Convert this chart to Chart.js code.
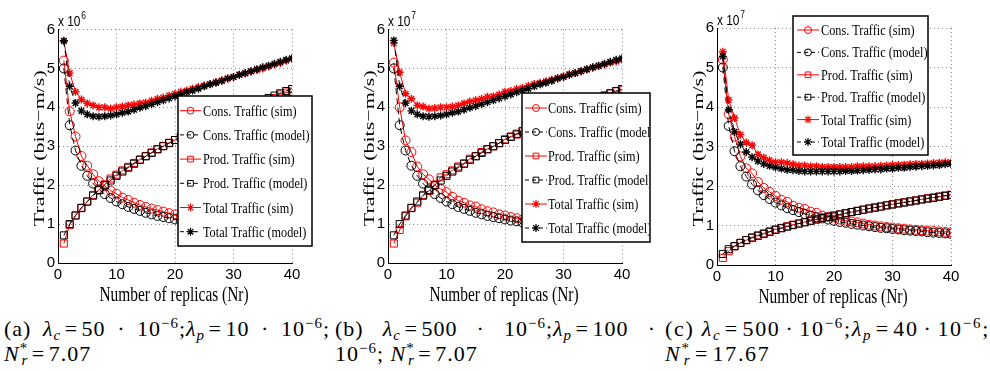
<!DOCTYPE html>
<html>
<head>
<meta charset="utf-8">
<script src="https://cdn.jsdelivr.net/npm/chart.js"></script>
<style>
  body { margin: 0; background: #fff; width: 990px; height: 371px; position: relative; overflow: hidden; }
  canvas { position: absolute; top: 0; }
  #chartA { left: 0; }
  #chartB { left: 330px; }
  #chartC { left: 660px; }
  .cap { position: absolute; top: 316px; font-family: "Liberation Serif", serif; font-size: 22px; letter-spacing: 1px; line-height: 25px; color: #000; }
  .cap .l1 { white-space: nowrap; }
  .cap .j { text-align: justify; text-align-last: justify; white-space: normal; }
  .cap sup, .cap sub { font-size: 0.68em; line-height: 0; }
  .cap sup { vertical-align: 0.55em; }
  .cap sub { vertical-align: -0.3em; }
  .cap sub.r { margin-left: -0.45em; }
  .rel { margin: 0 0.16em; }
  .bin { margin: 0 0.22em; }
</style>
</head>
<body>
<canvas id="chartA" width="330" height="310"></canvas>
<canvas id="chartB" width="330" height="310"></canvas>
<canvas id="chartC" width="330" height="310"></canvas>

<div class="cap" style="left:4px;width:326px">
  <div class="l1 j">(a) <i>λ</i><sub><i>c</i></sub><span class="rel">=</span>50 · 10<sup>−6</sup>;<i>λ</i><sub><i>p</i></sub><span class="rel">=</span>10 · 10<sup>−6</sup>;</div>
  <div><i>N</i><sup>*</sup><sub class="r"><i>r</i></sub><span class="rel">=</span>7.07</div>
</div>
<div class="cap" style="left:335px;width:321px">
  <div class="j">(b) <i>λ</i><sub><i>c</i></sub><span class="rel">=</span>500 · 10<sup>−6</sup>;<i>λ</i><sub><i>p</i></sub><span class="rel">=</span>100 ·</div>
  <div>10<sup>−6</sup>; <i>N</i><sup>*</sup><sub class="r"><i>r</i></sub><span class="rel">=</span>7.07</div>
</div>
<div class="cap" style="left:665px;width:325px;letter-spacing:1.7px">
  <div class="l1">(c) <i>λ</i><sub><i>c</i></sub><span class="rel">=</span>500<span class="bin">·</span>10<sup>−6</sup>;<i>λ</i><sub><i>p</i></sub><span class="rel">=</span>40<span class="bin">·</span>10<sup>−6</sup>;</div>
  <div><i>N</i><sup>*</sup><sub class="r"><i>r</i></sub><span class="rel">=</span>17.67</div>
</div>

<script>
const replicas = [1, 2, 3, 4, 5, 6, 7, 8, 9, 10, 11, 12, 13, 14, 15, 16, 17, 18, 19, 20,
    21, 22, 23, 24, 25, 26, 27, 28, 29, 30, 31, 32, 33, 34, 35, 36, 37, 38, 39, 40];

const seriesNames = ['Cons. Traffic (sim)', 'Cons. Traffic (model)', 'Prod. Traffic (sim)',
    'Prod. Traffic (model)', 'Total Traffic (sim)', 'Total Traffic (model)'];

// (a) values x 10^6
const consSimA = [5.2, 3.9, 3.25, 2.75, 2.5, 2.28, 2.1, 1.98, 1.86, 1.78, 1.68, 1.62, 1.55, 1.49, 1.44, 1.4, 1.36, 1.32, 1.28, 1.25,
    1.22, 1.19, 1.16, 1.13, 1.11, 1.09, 1.07, 1.05, 1.03, 1.01, 0.99, 0.97, 0.96, 0.94, 0.93, 0.91, 0.9, 0.88, 0.87, 0.86];
const consModelA = [5.0, 3.54, 2.89, 2.5, 2.24, 2.04, 1.89, 1.77, 1.67, 1.58, 1.51, 1.44, 1.39, 1.34, 1.29, 1.25, 1.21, 1.18, 1.15, 1.12,
    1.09, 1.07, 1.04, 1.02, 1.0, 0.98, 0.96, 0.94, 0.93, 0.91, 0.9, 0.88, 0.87, 0.86, 0.85, 0.83, 0.82, 0.81, 0.8, 0.79];
const prodSimA = [0.5, 0.98, 1.22, 1.42, 1.58, 1.75, 1.88, 2.02, 2.17, 2.27, 2.38, 2.47, 2.57, 2.66, 2.75, 2.84, 2.93, 3.01, 3.09, 3.16,
    3.24, 3.31, 3.38, 3.45, 3.52, 3.58, 3.64, 3.71, 3.77, 3.83, 3.89, 3.95, 4.01, 4.06, 4.12, 4.17, 4.24, 4.33, 4.38, 4.4];
const prodModelA = [0.71, 1.0, 1.22, 1.41, 1.58, 1.73, 1.87, 2.0, 2.12, 2.24, 2.35, 2.45, 2.55, 2.65, 2.74, 2.83, 2.92, 3.0, 3.08, 3.16,
    3.24, 3.32, 3.39, 3.46, 3.54, 3.61, 3.67, 3.74, 3.81, 3.87, 3.94, 4.0, 4.06, 4.12, 4.18, 4.24, 4.3, 4.36, 4.42, 4.47];
const totalSimA = [5.7, 4.88, 4.4, 4.2, 4.1, 4.05, 4.0, 4.0, 3.97, 4.0, 4.02, 4.05, 4.07, 4.1, 4.12, 4.17, 4.22, 4.25, 4.3, 4.35,
    4.4, 4.43, 4.48, 4.52, 4.56, 4.6, 4.65, 4.69, 4.74, 4.78, 4.83, 4.87, 4.92, 4.96, 5.0, 5.05, 5.1, 5.14, 5.2, 5.25];
const totalModelA = [5.71, 4.54, 4.11, 3.91, 3.82, 3.77, 3.76, 3.77, 3.79, 3.82, 3.86, 3.89, 3.94, 3.99, 4.03, 4.08, 4.13, 4.18, 4.23, 4.28,
    4.33, 4.39, 4.43, 4.48, 4.54, 4.59, 4.63, 4.68, 4.74, 4.78, 4.84, 4.88, 4.93, 4.98, 5.03, 5.07, 5.12, 5.17, 5.22, 5.26];

// (b) values x 10^7
const consSimB = [5.15, 4.0, 3.15, 2.85, 2.48, 2.28, 2.15, 2.0, 1.9, 1.82, 1.7, 1.6, 1.55, 1.48, 1.45, 1.38, 1.33, 1.3, 1.25, 1.22,
    1.18, 1.15, 1.12, 1.1, 1.08, 1.06, 1.04, 1.02, 1.0, 0.99, 0.97, 0.96, 0.94, 0.93, 0.92, 0.9, 0.89, 0.88, 0.87, 0.86];
const consModelB = [5.0, 3.54, 2.89, 2.5, 2.24, 2.04, 1.89, 1.77, 1.67, 1.58, 1.51, 1.44, 1.39, 1.34, 1.29, 1.25, 1.21, 1.18, 1.15, 1.12,
    1.09, 1.07, 1.04, 1.02, 1.0, 0.98, 0.96, 0.94, 0.93, 0.91, 0.9, 0.88, 0.87, 0.86, 0.85, 0.83, 0.82, 0.81, 0.8, 0.79];
const prodSimB = [0.5, 0.85, 1.2, 1.42, 1.55, 1.75, 1.85, 2.0, 2.2, 2.28, 2.38, 2.48, 2.56, 2.68, 2.75, 2.85, 2.93, 3.0, 3.08, 3.18,
    3.25, 3.3, 3.38, 3.45, 3.52, 3.58, 3.65, 3.71, 3.78, 3.84, 3.9, 3.96, 4.02, 4.08, 4.13, 4.19, 4.3, 4.36, 4.41, 4.45];
const prodModelB = [0.71, 1.0, 1.22, 1.41, 1.58, 1.73, 1.87, 2.0, 2.12, 2.24, 2.35, 2.45, 2.55, 2.65, 2.74, 2.83, 2.92, 3.0, 3.08, 3.16,
    3.24, 3.32, 3.39, 3.46, 3.54, 3.61, 3.67, 3.74, 3.81, 3.87, 3.94, 4.0, 4.06, 4.12, 4.18, 4.24, 4.3, 4.36, 4.42, 4.47];
const totalSimB = [5.65, 4.9, 4.35, 4.22, 4.05, 4.02, 3.97, 3.98, 4.0, 4.0, 4.02, 4.05, 4.1, 4.15, 4.18, 4.22, 4.27, 4.28, 4.33, 4.4,
    4.42, 4.47, 4.5, 4.55, 4.6, 4.63, 4.67, 4.71, 4.75, 4.8, 4.85, 4.88, 4.93, 4.97, 5.02, 5.06, 5.1, 5.15, 5.18, 5.22];
const totalModelB = [5.72, 4.54, 4.11, 3.91, 3.82, 3.77, 3.76, 3.77, 3.79, 3.82, 3.86, 3.89, 3.94, 3.99, 4.03, 4.08, 4.13, 4.18, 4.23, 4.28,
    4.33, 4.39, 4.43, 4.48, 4.54, 4.59, 4.63, 4.68, 4.74, 4.78, 4.84, 4.88, 4.93, 4.98, 5.03, 5.07, 5.12, 5.17, 5.22, 5.26];

// (c) values x 10^7
const consSimC = [5.2, 3.82, 3.25, 2.75, 2.45, 2.32, 2.1, 1.95, 1.85, 1.75, 1.65, 1.6, 1.5, 1.45, 1.42, 1.35, 1.32, 1.25, 1.22, 1.2,
    1.15, 1.12, 1.1, 1.08, 1.05, 1.02, 1.0, 0.98, 0.96, 0.95, 0.93, 0.92, 0.9, 0.89, 0.88, 0.87, 0.86, 0.85, 0.84, 0.83];
const consModelC = [5.0, 3.52, 2.88, 2.5, 2.24, 2.04, 1.89, 1.77, 1.67, 1.58, 1.51, 1.44, 1.39, 1.34, 1.29, 1.25, 1.21, 1.18, 1.15, 1.12,
    1.09, 1.07, 1.04, 1.02, 1.0, 0.98, 0.96, 0.94, 0.93, 0.91, 0.9, 0.88, 0.87, 0.86, 0.85, 0.83, 0.82, 0.81, 0.8, 0.79];
const prodSimC = [0.18, 0.35, 0.47, 0.56, 0.63, 0.7, 0.75, 0.8, 0.85, 0.9, 0.94, 0.98, 1.02, 1.05, 1.09, 1.12, 1.16, 1.19, 1.22, 1.25,
    1.28, 1.31, 1.34, 1.37, 1.4, 1.43, 1.46, 1.48, 1.51, 1.54, 1.56, 1.59, 1.61, 1.64, 1.66, 1.69, 1.71, 1.73, 1.76, 1.78];
const prodModelC = [0.28, 0.4, 0.48, 0.56, 0.63, 0.69, 0.74, 0.79, 0.84, 0.89, 0.93, 0.97, 1.01, 1.05, 1.08, 1.12, 1.15, 1.19, 1.22, 1.25,
    1.28, 1.31, 1.34, 1.37, 1.4, 1.43, 1.45, 1.48, 1.51, 1.53, 1.56, 1.58, 1.61, 1.63, 1.66, 1.68, 1.7, 1.73, 1.75, 1.77];
const totalSimC = [5.4, 4.18, 3.72, 3.3, 3.1, 3.03, 2.8, 2.72, 2.65, 2.6, 2.6, 2.58, 2.55, 2.52, 2.52, 2.5, 2.5, 2.48, 2.48, 2.48,
    2.48, 2.48, 2.48, 2.5, 2.5, 2.5, 2.5, 2.51, 2.52, 2.53, 2.53, 2.54, 2.55, 2.56, 2.56, 2.57, 2.58, 2.59, 2.6, 2.6];
const totalModelC = [5.28, 3.93, 3.37, 3.06, 2.86, 2.73, 2.63, 2.56, 2.51, 2.47, 2.44, 2.41, 2.4, 2.38, 2.37, 2.37, 2.37, 2.37, 2.37, 2.37,
    2.37, 2.38, 2.38, 2.39, 2.4, 2.41, 2.42, 2.42, 2.44, 2.44, 2.46, 2.46, 2.48, 2.49, 2.5, 2.51, 2.52, 2.53, 2.55, 2.56];

const xTicks = [0, 10, 20, 30, 40];
const yTicks = [0, 1, 2, 3, 4, 5, 6];

const seriesStyles = [
    { color: '#ff0000', dash: [], marker: 'circle', size: 4.5, width: 1 },
    { color: '#000000', dash: [6, 4], marker: 'circle', size: 4.5, width: 1 },
    { color: '#ff0000', dash: [], marker: 'rect', size: 5, width: 1 },
    { color: '#000000', dash: [6, 4], marker: 'rect', size: 5, width: 1 },
    { color: '#ff0000', dash: [], marker: 'star', size: 4, width: 1.4 },
    { color: '#000000', dash: [6, 4], marker: 'star', size: 4, width: 1.4 }
];

Chart.defaults.color = '#000';

function drawMarker(ctx, marker, x, y, r) {
    ctx.beginPath();
    if (marker === 'circle') {
        ctx.arc(x, y, r, 0, Math.PI * 2);
    } else if (marker === 'rect') {
        let s = r * Math.SQRT1_2;
        ctx.rect(x - s, y - s, 2 * s, 2 * s);
    } else {
        for (let k = 0; k < 4; k++) {
            let a = k * Math.PI / 4;
            ctx.moveTo(x + Math.cos(a) * r, y + Math.sin(a) * r);
            ctx.lineTo(x - Math.cos(a) * r, y - Math.sin(a) * r);
        }
    }
    ctx.stroke();
}

// matlab style extras: exponent, squeezed axis titles and the boxed legend
const matlabDecor = {
    id: 'matlabDecor',
    afterDraw(chart, args, opts) {
        const ctx = chart.ctx;
        const area = chart.chartArea;
        ctx.save();
        ctx.fillStyle = '#000';

        ctx.save();
        ctx.translate(area.left, area.top - 3.5);
        ctx.scale(0.85, 1);
        ctx.font = '14px "Liberation Sans"';
        ctx.fillText('x 10', 0, 0);
        let w = ctx.measureText('x 10').width;
        ctx.font = '10px "Liberation Sans"';
        ctx.fillText(String(opts.exponent), w + 1, -7);
        ctx.restore();

        ctx.font = '22px "Liberation Serif"';
        ctx.save();
        ctx.translate((area.left + area.right) / 2 - 1, area.bottom + 38);
        ctx.scale(0.7, 1);
        ctx.textAlign = 'center';
        ctx.fillText('Number of replicas (Nr)', 0, 0);
        ctx.restore();

        ctx.save();
        ctx.translate(area.left - 18, (area.top + area.bottom) / 2 + 2);
        ctx.scale(0.7, 1);
        ctx.rotate(-Math.PI / 2);
        ctx.textAlign = 'center';
        ctx.textBaseline = 'middle';
        ctx.fillText('Traffic (bits−m/s)', 0, 0);
        ctx.restore();

        const lg = opts.legend;
        ctx.fillStyle = '#fff';
        ctx.fillRect(lg.x, lg.y, lg.w, lg.h);
        ctx.lineWidth = 1.5;
        ctx.strokeStyle = '#000';
        ctx.strokeRect(lg.x, lg.y, lg.w, lg.h);

        ctx.beginPath();
        ctx.rect(lg.x, lg.y, lg.w - 1, lg.h);
        ctx.clip();
        chart.data.datasets.forEach((ds, i) => {
            const st = seriesStyles[i];
            const cy = lg.y + lg.first + i * lg.rowH;
            ctx.strokeStyle = st.color;
            ctx.lineWidth = 1;
            ctx.setLineDash(st.dash.length ? [4, 3] : []);
            ctx.beginPath();
            ctx.moveTo(lg.x + lg.lineL, cy);
            ctx.lineTo(lg.x + lg.lineR, cy);
            ctx.stroke();
            ctx.setLineDash([]);
            ctx.lineWidth = st.marker === 'star' ? 1.2 : 1;
            drawMarker(ctx, st.marker, lg.x + (lg.lineL + lg.lineR) / 2, cy, st.marker === 'star' ? 4 : st.size - 1);

            ctx.save();
            ctx.translate(lg.x + lg.textX, cy);
            ctx.scale(0.79, 1);
            ctx.fillStyle = '#000';
            ctx.font = '15.5px "Liberation Serif"';
            ctx.textBaseline = 'middle';
            ctx.fillText(ds.label, 0, 1);
            ctx.restore();
        });
        ctx.restore();
    }
};

function buildChart(id, series, cfg) {
    const ctx = document.getElementById(id).getContext('2d');
    return new Chart(ctx, {
        type: 'line',
        data: {
            labels: replicas,
            datasets: series.map((values, i) => ({
                label: seriesNames[i],
                data: values,
                borderColor: seriesStyles[i].color,
                borderWidth: 1,
                borderDash: seriesStyles[i].dash,
                pointStyle: seriesStyles[i].marker,
                pointRadius: seriesStyles[i].size,
                pointBorderColor: seriesStyles[i].color,
                pointBackgroundColor: 'rgba(0,0,0,0)',
                pointBorderWidth: seriesStyles[i].width,
                tension: 0,
                fill: false,
                order: series.length - i
            }))
        },
        options: {
            responsive: false,
            animation: false,
            devicePixelRatio: 1,
            events: [],
            layout: { padding: { left: 0, right: cfg.padRight, top: cfg.top, bottom: 0 } },
            plugins: {
                legend: { display: false },
                tooltip: { enabled: false },
                matlabDecor: { exponent: cfg.exponent, legend: cfg.legend }
            },
            scales: {
                x: {
                    type: 'linear',
                    min: xTicks[0],
                    max: xTicks[xTicks.length - 1],
                    afterBuildTicks: scale => { scale.ticks = xTicks.map(v => ({ value: v })); },
                    ticks: { padding: 3, color: '#000', font: { family: 'Liberation Sans', size: 15 } },
                    grid: { color: 'rgba(0,0,0,0.45)', drawTicks: false },
                    border: { color: '#000', width: 1, dash: [1, 3] },
                    afterFit: scale => { scale.height = 310 - cfg.bottom; }
                },
                y: {
                    min: yTicks[0],
                    max: yTicks[yTicks.length - 1],
                    afterBuildTicks: scale => { scale.ticks = yTicks.map(v => ({ value: v })); },
                    ticks: { padding: 3, color: '#000', font: { family: 'Liberation Sans', size: 15 } },
                    grid: { color: 'rgba(0,0,0,0.45)', drawTicks: false },
                    border: { color: '#000', width: 1, dash: [1, 3] },
                    afterFit: scale => { scale.width = cfg.left; }
                }
            }
        },
        plugins: [matlabDecor]
    });
}

buildChart('chartA', [consSimA, consModelA, prodSimA, prodModelA, totalSimA, totalModelA], {
    exponent: 6, left: 58, padRight: 38, top: 29.5, bottom: 263,
    legend: { x: 178, y: 96, w: 134, h: 150, first: 14.7, rowH: 24.2, lineL: 2, lineR: 23, textX: 25 }
});
buildChart('chartB', [consSimB, consModelB, prodSimB, prodModelB, totalSimB, totalModelB], {
    exponent: 7, left: 58, padRight: 38, top: 29.5, bottom: 263,
    legend: { x: 192, y: 93, w: 128, h: 149, first: 15, rowH: 24, lineL: 3, lineR: 25, textX: 26 }
});
buildChart('chartC', [consSimC, consModelC, prodSimC, prodModelC, totalSimC, totalModelC], {
    exponent: 7, left: 57, padRight: 39, top: 28, bottom: 265,
    legend: { x: 133, y: 16, w: 135, h: 139, first: 14, rowH: 22.4, lineL: 4, lineR: 26, textX: 28 }
});
</script>
</body>
</html>
